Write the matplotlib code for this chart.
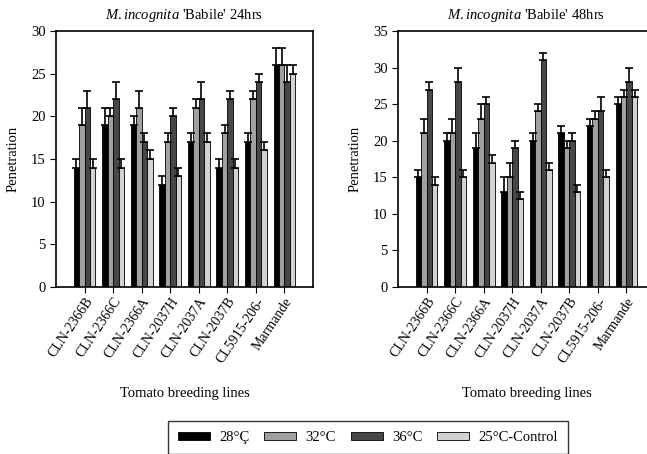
import numpy as np
import matplotlib
matplotlib.use('Agg')
import matplotlib.pyplot as plt
from matplotlib.patches import Patch

plt.rcParams['font.family'] = ['Liberation Serif', 'DejaVu Serif']
plt.rcParams['font.size'] = 10
plt.rcParams['mathtext.fontset'] = 'custom'
plt.rcParams['mathtext.rm'] = 'Liberation Serif'
plt.rcParams['mathtext.it'] = 'Liberation Serif:italic'

# Données
lignes = ['CLN-2366B', 'CLN-2366C', 'CLN-2366A', 'CLN-2037H',
          'CLN-2037A', 'CLN-2037B', 'CL5915-206-', 'Marmande']
traitements = ['28°Ç', '32°C', '36°C', '25°C-Control']
couleurs = ['#000000', '#a0a0a0', '#474747', '#d2d2d2']

# 24 heures : moyennes et haut des barres d'erreur
moy_24 = {
    '28°Ç': [14, 19, 19, 12, 17, 14, 17, 26],
    '32°C': [19, 20, 21, 17, 21, 18, 22, 26],
    '36°C': [21, 22, 17, 20, 22, 22, 24, 24],
    '25°C-Control': [14, 14, 15, 13, 17, 14, 16, 25],
}
haut_24 = {
    '28°Ç': [15, 21, 20, 13, 18, 15, 18, 28],
    '32°C': [21, 21, 23, 18, 22, 19, 23, 28],
    '36°C': [23, 24, 18, 21, 24, 23, 25, 26],
    '25°C-Control': [15, 15, 16, 14, 18, 15, 17, 26],
}

# 48 heures
moy_48 = {
    '28°Ç': [15, 20, 19, 13, 20, 21, 22, 25],
    '32°C': [21, 21, 23, 15, 24, 19, 23, 26],
    '36°C': [27, 28, 25, 19, 31, 20, 24, 28],
    '25°C-Control': [14, 15, 17, 12, 16, 13, 15, 26],
}
haut_48 = {
    '28°Ç': [16, 21, 21, 15, 21, 22, 23, 26],
    '32°C': [23, 23, 25, 17, 25, 20, 24, 27],
    '36°C': [28, 30, 26, 20, 32, 21, 26, 30],
    '25°C-Control': [15, 16, 18, 13, 17, 14, 16, 27],
}

W, H = 647, 454
fig = plt.figure(figsize=(W / 100, H / 100), dpi=100)


def panel(rect, moy, haut, ymax, titre):
    ax = fig.add_axes(rect)
    x = np.arange(len(lignes))
    largeur = 0.19
    for i, t in enumerate(traitements):
        pos = x + (i - 1.5) * largeur
        m = np.array(moy[t])
        err = np.array(haut[t]) - m
        ax.bar(pos, m, width=largeur, color=couleurs[i], edgecolor='black',
               linewidth=0.6, zorder=2)
        ax.errorbar(pos, m, yerr=[np.zeros_like(err), err], fmt='none',
                    ecolor='black', elinewidth=1.2, capsize=3, capthick=1.2,
                    zorder=3)
    ax.set_xlim(-1, 8)
    ax.set_ylim(0, ymax)
    ax.set_yticks(np.arange(0, ymax + 1, 5))
    ax.set_xticks(x)
    ax.set_xticklabels(lignes, rotation=56, ha='right', rotation_mode='anchor',
                       fontsize=10)
    ax.tick_params(axis='y', labelsize=10.5, direction='out', length=4)
    ax.tick_params(axis='x', direction='out', length=4, pad=2)
    for s in ax.spines.values():
        s.set_linewidth(1.2)
    ax.set_ylabel('Penetration', fontsize=10.5, labelpad=8)
    ax.set_xlabel('Tomato breeding lines', fontsize=10.5, labelpad=16)
    ax.set_title(titre, fontsize=10.5, pad=9)
    return ax


bas = 1 - 287 / H
haut_ax = 256 / H
panel([56 / W, bas, 257 / W, haut_ax], moy_24, haut_24, 30,
      r"$\it{M.incognita}$ 'Babile' 24hrs")
panel([398 / W, bas, 257 / W, haut_ax], moy_48, haut_48, 35,
      r"$\it{M.incognita}$ 'Babile' 48hrs")

poignees = [Patch(facecolor=c, edgecolor='black', linewidth=0.6) for c in couleurs]
leg = fig.legend(poignees, traitements, loc='upper center', ncol=4,
                 bbox_to_anchor=(368 / W, 1 - 421 / H), fontsize=10.5,
                 frameon=True, fancybox=False, edgecolor='black',
                 handlelength=2.2, handleheight=0.55, columnspacing=1.0,
                 borderpad=0.7, borderaxespad=0, handletextpad=0.65)
leg.get_frame().set_linewidth(1.0)

fig.savefig('out.png', dpi=100)
